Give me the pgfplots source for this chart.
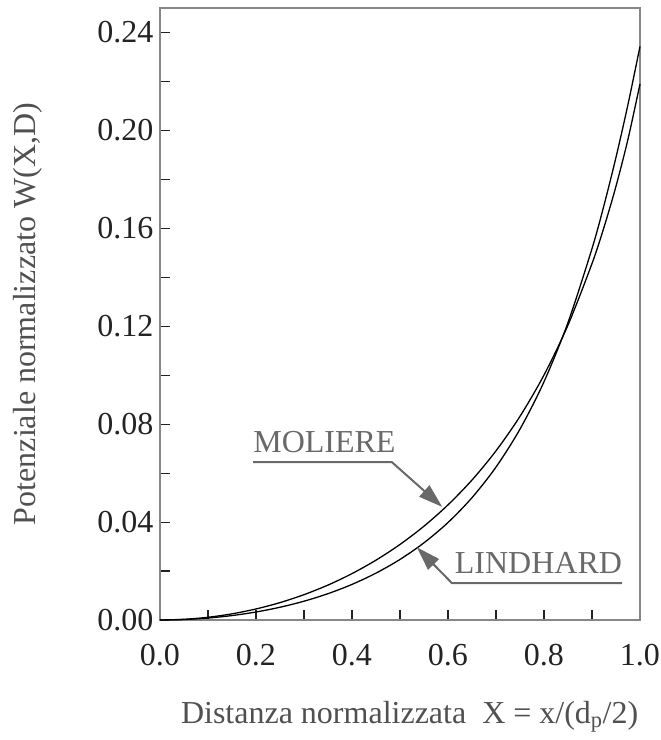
\documentclass[border=0pt]{standalone}
\usepackage{fontspec}
\setmainfont{Liberation Serif}
\usepackage{pgfplots}
\usepackage{pgfplotstable}
\pgfplotsset{compat=1.18}
\usetikzlibrary{arrows.meta}

\definecolor{axisgray}{RGB}{135,135,135}
\definecolor{labelgray}{RGB}{80,80,80}
\definecolor{notegray}{RGB}{105,105,105}
\definecolor{tickblack}{RGB}{35,35,35}

% Normalized planar potential W(X,D): Moliere and Lindhard
\pgfplotstableread{
X      M        L
0      0        0
0.05   0.00028  0.00020
0.1    0.00111  0.00080
0.15   0.00252  0.00181
0.2    0.00451  0.00327
0.25   0.00710  0.00521
0.3    0.01035  0.00768
0.35   0.01427  0.01076
0.4    0.01895  0.01454
0.45   0.02445  0.01915
0.5    0.03086  0.02474
0.55   0.03833  0.03154
0.6    0.04703  0.03982
0.65   0.05718  0.04997
0.7    0.06910  0.06247
0.75   0.08320  0.07798
0.8    0.10006  0.09732
0.85   0.12048  0.12152
0.9    0.14560  0.15171
0.925  0.16043  0.16941
0.95   0.17720  0.18902
0.975  0.19643  0.21063
1.0    0.21901  0.23431
}\potential

\newcommand{\bigfont}{\fontsize{32}{38}\selectfont}

\begin{document}
\begin{tikzpicture}
\useasboundingbox (-160pt,-120pt) rectangle (501pt,620pt);
\begin{axis}[
  at={(0pt,0pt)}, anchor=south west,
  width=480pt, height=612pt, scale only axis,
  xmin=0, xmax=1, ymin=0, ymax=0.25,
  axis line style={axisgray, line width=1.7pt},
  xtick={0,0.2,0.4,0.6,0.8,1.0},
  xticklabels={0.0,0.2,0.4,0.6,0.8,1.0},
  minor xtick={0.1,0.3,0.5,0.7,0.9},
  ytick={0,0.04,0.08,0.12,0.16,0.20,0.24},
  yticklabels={0.00,0.04,0.08,0.12,0.16,0.20,0.24},
  minor ytick={0.02,0.06,0.10,0.14,0.18,0.22},
  xtick pos=bottom, ytick pos=left,
  tick align=inside,
  major tick length=10pt, minor tick length=10pt,
  tick style={tickblack, line width=1.1pt},
  /pgf/number format/assume math mode=true,
  tick label style={font=\bigfont, text=tickblack},
  xticklabel style={anchor=center, yshift=-35pt},
  yticklabel style={anchor=east, xshift=-3pt},
  xlabel={Distanza normalizzata\ \ X = x/(d\textsubscript{p}/2)},
  ylabel={Potenziale normalizzato W(X,D)},
  label style={font=\bigfont, text=labelgray},
  xlabel style={at={(axis description cs:0.52,0)}, anchor=center, yshift=-97pt},
  ylabel style={at={([xshift=-132pt]axis description cs:0,0.5)}, anchor=center},
  clip=false,
]
\addplot[black, line width=1.3pt, smooth] table[x=X, y=M] {\potential};
\addplot[black, line width=1.3pt, smooth] table[x=X, y=L] {\potential};

% curve annotations
\node[anchor=base west, inner sep=0pt, font=\bigfont, text=notegray]
  at (axis cs:0.194,0.0684) {MOLIERE};
\draw[notegray, line width=2pt, -{Triangle[length=24pt,width=15pt]}]
  (axis cs:0.194,0.0645) -- (axis cs:0.483,0.0645) -- (axis cs:0.588,0.0462);
\node[anchor=base west, inner sep=0pt, font=\bigfont, text=notegray]
  at (axis cs:0.614,0.0190) {LINDHARD};
\draw[notegray, line width=2pt, -{Triangle[length=24pt,width=15pt]}]
  (axis cs:0.963,0.0151) -- (axis cs:0.608,0.0151) -- (axis cs:0.535,0.0297);
\end{axis}
\end{tikzpicture}
\end{document}
